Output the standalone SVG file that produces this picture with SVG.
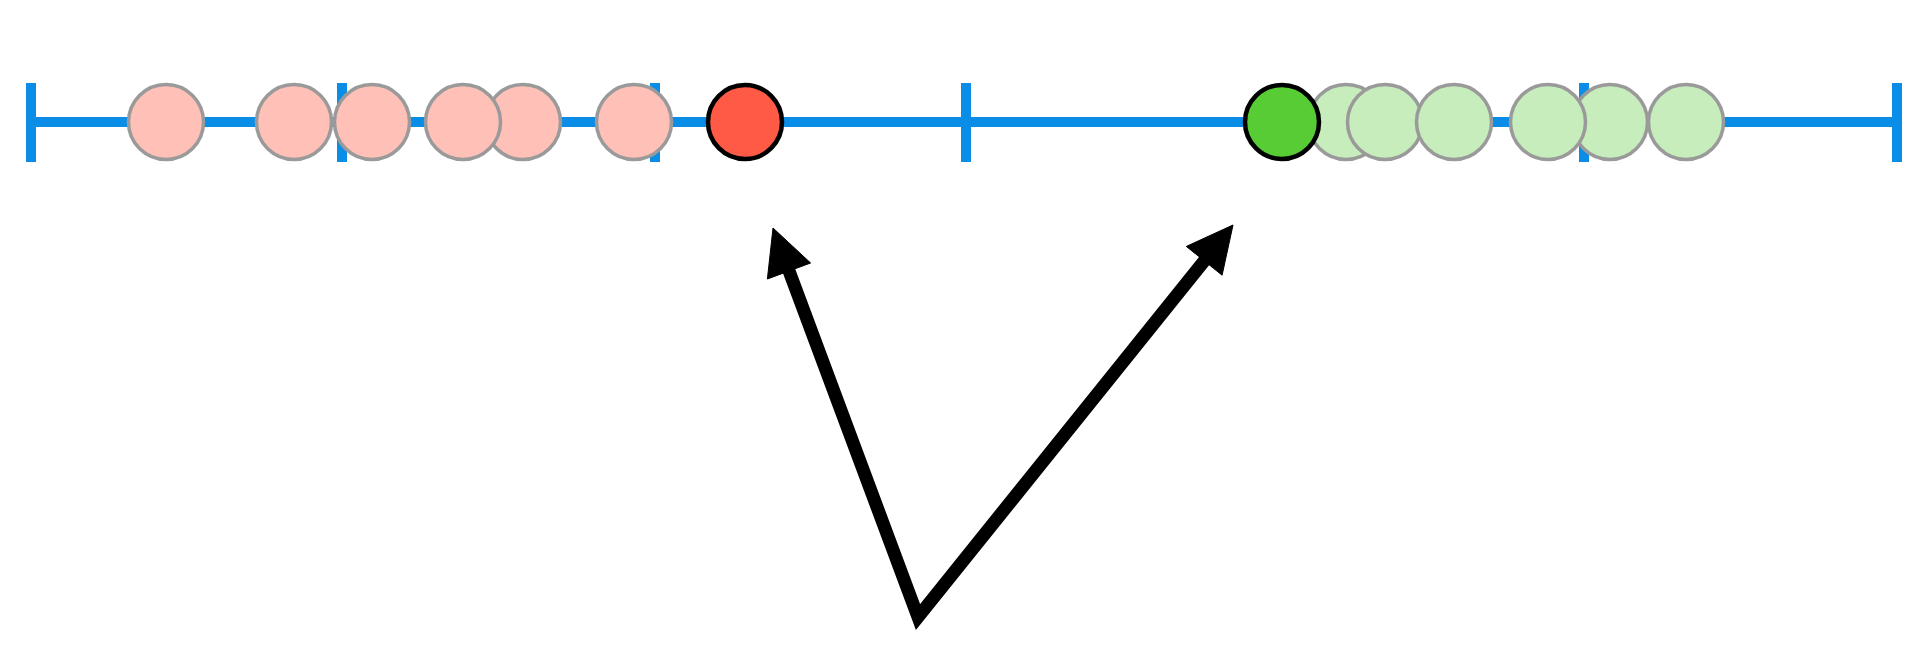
<svg xmlns="http://www.w3.org/2000/svg" width="1920" height="647" viewBox="0 0 1920 647">
<style>
.axis{stroke:#0a8de6;stroke-width:10;fill:none}
.tick{stroke:#0a8de6;stroke-width:10}
.pink{fill:#ffc0b8;stroke:#9a9a9a;stroke-width:3.5}
.lgreen{fill:#c6edbb;stroke:#9a9a9a;stroke-width:3.5}
.red{fill:#ff5a45;stroke:#000;stroke-width:4.5}
.green{fill:#58cc35;stroke:#000;stroke-width:4.5}
.arrow{stroke:#000;stroke-width:13;fill:none;stroke-linejoin:miter}
.head{fill:#000;stroke:#000;stroke-width:1;stroke-linejoin:miter}
</style>
<rect width="1920" height="647" fill="#fff"/>
<g id="axis">
<line class="axis" x1="31" y1="122" x2="1897" y2="122"/>
<line class="tick" x1="31" y1="83" x2="31" y2="162"/>
<line class="tick" x1="342" y1="83" x2="342" y2="162"/>
<line class="tick" x1="655" y1="83" x2="655" y2="162"/>
<line class="tick" x1="966" y1="83" x2="966" y2="162"/>
<line class="tick" x1="1282" y1="85" x2="1282" y2="159"/>
<line class="tick" x1="1584" y1="83" x2="1584" y2="162"/>
<line class="tick" x1="1897" y1="83" x2="1897" y2="162"/>
</g>
<g id="neg-samples">
<circle class="pink" cx="166" cy="122" r="37.5"/>
<circle class="pink" cx="294" cy="122" r="37.5"/>
<circle class="pink" cx="372" cy="122" r="37.5"/>
<circle class="pink" cx="523" cy="122" r="37.5"/>
<circle class="pink" cx="463" cy="122" r="37.5"/>
<circle class="pink" cx="634" cy="122" r="37.5"/>
</g>
<g id="pos-samples">
<circle class="lgreen" cx="1346" cy="122" r="37.5"/>
<circle class="lgreen" cx="1385" cy="122" r="37.5"/>
<circle class="lgreen" cx="1454" cy="122" r="37.5"/>
<circle class="lgreen" cx="1610" cy="122" r="37.5"/>
<circle class="lgreen" cx="1548" cy="122" r="37.5"/>
<circle class="lgreen" cx="1686" cy="122" r="37.5"/>
</g>
<g id="red-point">
<circle class="red" cx="745" cy="122" r="37"/>
</g>
<g id="green-point">
<circle class="green" cx="1282" cy="122" r="37"/>
</g>
<g id="connectors">
<path class="arrow" d="M787,265.5 L918,617 L1208,256.2"/>
<polygon class="head" points="773,228 810.6,263 767.4,279"/>
<polygon class="head" points="1233,225 1222.1,275.2 1186.3,246.4"/>
</g>
</svg>
